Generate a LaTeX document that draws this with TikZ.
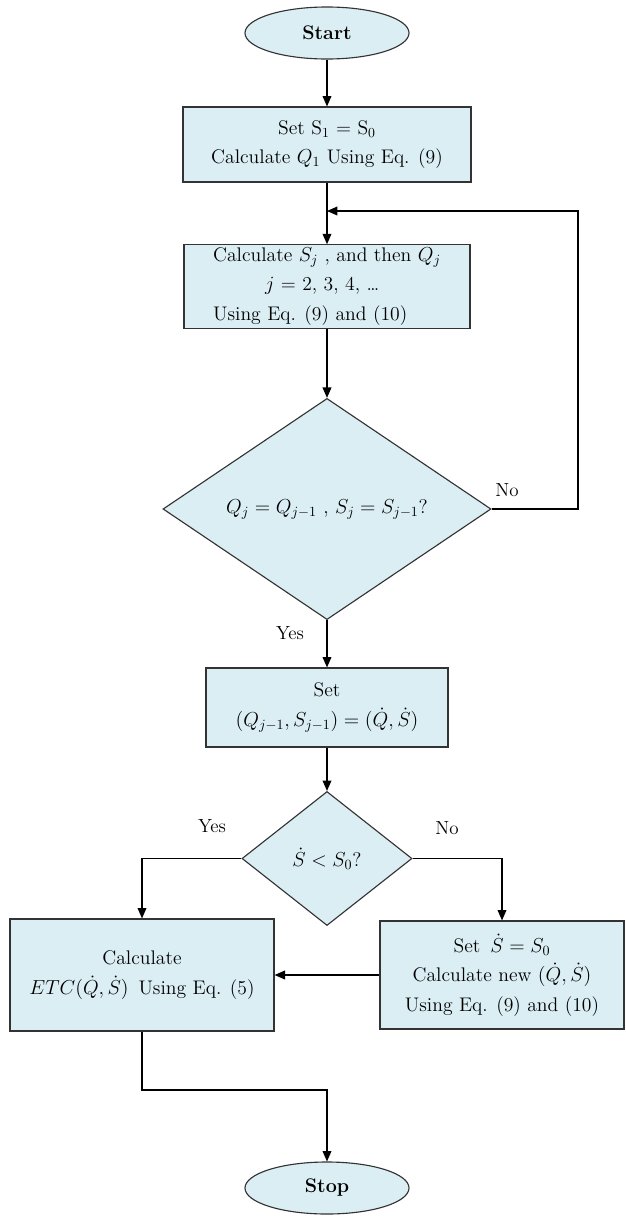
\documentclass[tikz,border=0pt]{standalone}
\usepackage{amsmath}
\usepackage{tikz}
\usetikzlibrary{arrows.meta,shapes.geometric,positioning}
\definecolor{boxfill}{HTML}{DAEEF3}
\definecolor{edge}{HTML}{333333}

\begin{document}
\begin{tikzpicture}[x=0.025cm,y=-0.025cm,
 font=\fontsize{14}{21}\selectfont,line width=0.8pt,
 term/.style={draw=edge,fill=boxfill,ellipse,minimum width=4.1cm,minimum height=1.3cm,font=\fontsize{14}{16}\selectfont\bfseries},
 proc/.style={draw=edge,fill=boxfill,align=center,inner sep=2pt},
 dec/.style={draw=edge,fill=boxfill,diamond,inner sep=0pt,align=center},
 lbl/.style={font=\fontsize{13.5}{16}\selectfont},
 arr/.style={-{Triangle[length=2.6mm,width=2.2mm]},draw=black}
]
\useasboundingbox (0,0) rectangle (625,1217);
\node[term] (start) at (327,33) {Start};
\node[proc,minimum width=7.2cm,minimum height=1.875cm] (b1) at (327,144.5) {Set S\textsubscript{1} = S\textsubscript{0}\\Calculate $Q_1$ Using Eq. (9)};
\node[proc,align=left,minimum width=7.15cm,minimum height=2.075cm] (b2) at (327,286.5) {Calculate $S_j$ , and then $Q_j$\\\hspace{1.3cm}$j$ = 2, 3, 4, \dots\\Using Eq. (9) and (10)};
\node[dec,minimum width=8.2cm,minimum height=5.2cm] (d1) at (327,509) {$Q_j = Q_{j-1}$ , $S_j = S_{j-1}$?};
\node[proc,minimum width=6.05cm,minimum height=1.975cm] (b3) at (327,707.5) {Set\\$(Q_{j-1},S_{j-1}) = (\dot{Q},\dot{S})$};
\node[dec,minimum width=4.25cm,minimum height=3.35cm] (d2) at (327,858.5) {$\dot{S} < S_0$?};
\node[proc,minimum width=6.6cm,minimum height=2.8cm] (b4) at (142,975) {Calculate\\$ETC(\dot{Q},\dot{S})$\enspace Using Eq. (5)};
\node[proc,minimum width=6.1cm,minimum height=2.7cm] (b5) at (502,975) {Set\enspace$\dot{S} = S_0$\\Calculate new $(\dot{Q},\dot{S})$\\Using Eq. (9) and (10)};
\node[term] (stop) at (327,1188) {Stop};

\coordinate (join) at (327,211);
\coordinate (back) at (578,211);
\coordinate (bend) at (142,1090);

\draw[arr] (start) -- (b1);
\draw[arr] (b1) -- (b2);
\draw[arr] (b2) -- (d1);
\draw[arr] (d1.east) -| (back) -- (join);
\draw[arr] (d1) -- (b3);
\draw[arr] (b3) -- (d2);
\draw[arr] (d2.west) -| (b4.north);
\draw[arr] (d2.east) -| (b5.north);
\draw[arr] (b5) -- (b4);
\draw[arr] (b4.south) -- (bend) -| (stop.north);

\node[lbl] (no1) at (507,490) {No};
\node[lbl] (yes1) at (290,633) {Yes};
\node[lbl] (yes2) at (212,826) {Yes};
\node[lbl] (no2) at (447,828) {No};
\end{tikzpicture}
\end{document}
